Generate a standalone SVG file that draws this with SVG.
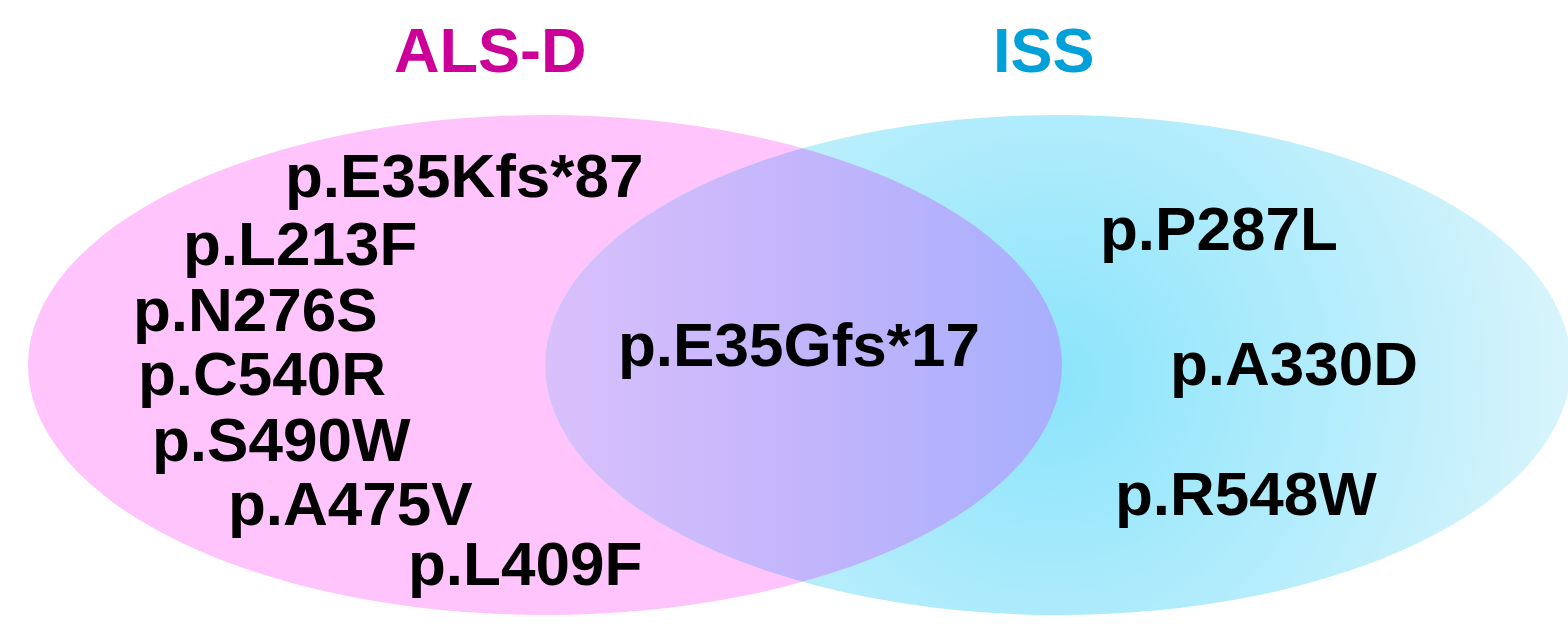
<svg xmlns="http://www.w3.org/2000/svg" width="1568" height="624" viewBox="0 0 1568 624">
<style>
.lbl{font-family:"Liberation Sans",Arial,sans-serif;font-weight:bold;font-size:62px;fill:#000}
.title{font-family:"Liberation Sans",Arial,sans-serif;font-weight:bold;font-size:63px}
</style>
<defs>
<radialGradient id="cyanGrad" cx="1050" cy="380" r="520" gradientUnits="userSpaceOnUse">
<stop offset="0" stop-color="#8be4fb"/>
<stop offset="0.5" stop-color="#b0ecfc"/>
<stop offset="1" stop-color="#d8f4fb"/>
</radialGradient>
<linearGradient id="overGrad" x1="545" y1="0" x2="1062" y2="0" gradientUnits="userSpaceOnUse">
<stop offset="0" stop-color="#d9c0fb"/>
<stop offset="0.5" stop-color="#c3b5fb"/>
<stop offset="1" stop-color="#a7affd"/>
</linearGradient>
<clipPath id="pinkClip"><ellipse cx="545" cy="365" rx="517" ry="250"/></clipPath>
</defs>
<rect width="1568" height="624" fill="#fff"/>
<g id="set-als-d">
<ellipse cx="545" cy="365" rx="517" ry="250" fill="#ffc4fb"/>
<text class="title" x="394" y="72" fill="#cc0099">ALS-D</text>
</g>
<g id="set-iss">
<ellipse cx="1058" cy="365" rx="513" ry="250" fill="url(#cyanGrad)"/>
<text class="title" x="993" y="72" fill="#00a0d8">ISS</text>
</g>
<g id="overlap">
<ellipse cx="1058" cy="365" rx="513" ry="250" fill="url(#overGrad)" clip-path="url(#pinkClip)"/>
</g>
<g id="connectors"></g>
<g id="als-d-items">
<text class="lbl" x="285" y="197">p.E35Kfs*87</text>
<text class="lbl" x="183" y="265">p.L213F</text>
<text class="lbl" x="133" y="331">p.N276S</text>
<text class="lbl" x="138" y="395">p.C540R</text>
<text class="lbl" x="152" y="461">p.S490W</text>
<text class="lbl" x="228" y="525">p.A475V</text>
<text class="lbl" x="408" y="585">p.L409F</text>
</g>
<g id="shared-items">
<text class="lbl" x="618" y="366">p.E35Gfs*17</text>
</g>
<g id="iss-items">
<text class="lbl" x="1100" y="250">p.P287L</text>
<text class="lbl" x="1170" y="385">p.A330D</text>
<text class="lbl" x="1115" y="515">p.R548W</text>
</g>
</svg>
